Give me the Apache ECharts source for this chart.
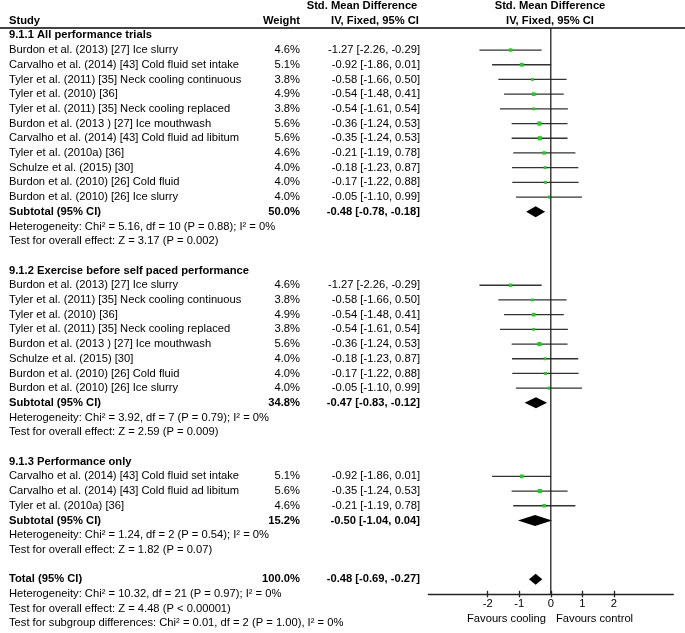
<!DOCTYPE html>
<html><head><meta charset="utf-8">
<script src="https://cdn.jsdelivr.net/npm/echarts@6/dist/echarts.min.js"></script>
<style>html,body{margin:0;padding:0;background:#fff}#c{width:685px;height:633px}</style>
</head><body><div id="c"></div>
<script>
// ---------- data ----------
const g1Title = '9.1.1 All performance trials';
const g1Names = ['Burdon et al. (2013) [27] Ice slurry','Carvalho et al. (2014) [43] Cold fluid set intake','Tyler et al. (2011) [35] Neck cooling continuous','Tyler et al. (2010) [36]','Tyler et al. (2011) [35] Neck cooling replaced','Burdon et al. (2013 ) [27] Ice mouthwash','Carvalho et al. (2014) [43] Cold fluid ad libitum','Tyler et al. (2010a) [36]','Schulze et al. (2015) [30]','Burdon et al. (2010) [26] Cold fluid','Burdon et al. (2010) [26] Ice slurry'];
const g1Weight = [4.6,5.1,3.8,4.9,3.8,5.6,5.6,4.6,4.0,4.0,4.0];
const g1Smd = [-1.27,-0.92,-0.58,-0.54,-0.54,-0.36,-0.35,-0.21,-0.18,-0.17,-0.05];
const g1Lo = [-2.26,-1.86,-1.66,-1.48,-1.61,-1.24,-1.24,-1.19,-1.23,-1.22,-1.10];
const g1Hi = [-0.29,0.01,0.50,0.41,0.54,0.53,0.53,0.78,0.87,0.88,0.99];
const g1Sub = [50.0,-0.48,-0.78,-0.18];
const g1Stats = ['Heterogeneity: Chi\u00b2 = 5.16, df = 10 (P = 0.88); I\u00b2 = 0%','Test for overall effect: Z = 3.17 (P = 0.002)'];

const g2Title = '9.1.2 Exercise before self paced performance';
const g2Names = ['Burdon et al. (2013) [27] Ice slurry','Tyler et al. (2011) [35] Neck cooling continuous','Tyler et al. (2010) [36]','Tyler et al. (2011) [35] Neck cooling replaced','Burdon et al. (2013 ) [27] Ice mouthwash','Schulze et al. (2015) [30]','Burdon et al. (2010) [26] Cold fluid','Burdon et al. (2010) [26] Ice slurry'];
const g2Weight = [4.6,3.8,4.9,3.8,5.6,4.0,4.0,4.0];
const g2Smd = [-1.27,-0.58,-0.54,-0.54,-0.36,-0.18,-0.17,-0.05];
const g2Lo = [-2.26,-1.66,-1.48,-1.61,-1.24,-1.23,-1.22,-1.10];
const g2Hi = [-0.29,0.50,0.41,0.54,0.53,0.87,0.88,0.99];
const g2Sub = [34.8,-0.47,-0.83,-0.12];
const g2Stats = ['Heterogeneity: Chi\u00b2 = 3.92, df = 7 (P = 0.79); I\u00b2 = 0%','Test for overall effect: Z = 2.59 (P = 0.009)'];

const g3Title = '9.1.3 Performance only';
const g3Names = ['Carvalho et al. (2014) [43] Cold fluid set intake','Carvalho et al. (2014) [43] Cold fluid ad libitum','Tyler et al. (2010a) [36]'];
const g3Weight = [5.1,5.6,4.6];
const g3Smd = [-0.92,-0.35,-0.21];
const g3Lo = [-1.86,-1.24,-1.19];
const g3Hi = [0.01,0.53,0.78];
const g3Sub = [15.2,-0.50,-1.04,0.04];
const g3Stats = ['Heterogeneity: Chi\u00b2 = 1.24, df = 2 (P = 0.54); I\u00b2 = 0%','Test for overall effect: Z = 1.82 (P = 0.07)'];

const totalRow = [100.0,-0.48,-0.69,-0.27];
const totalStats = ['Heterogeneity: Chi\u00b2 = 10.32, df = 21 (P = 0.97); I\u00b2 = 0%','Test for overall effect: Z = 4.48 (P < 0.00001)','Test for subgroup differences: Chi\u00b2 = 0.01, df = 2 (P = 1.00), I\u00b2 = 0%'];

const xTicks = [-2,-1,0,1,2];
const favourLeft = 'Favours cooling';
const favourRight = 'Favours control';

// ---------- layout ----------
const FONT = '"Liberation Sans", Arial, sans-serif';
const FS = 11.2;
const ROW_H = 14.7, ROW0 = 35.35;
const COL_NAME = 9, COL_W = 300, COL_CI = 420, COL_PLOT = 550;

const groups = [
  {title:g1Title,names:g1Names,w:g1Weight,smd:g1Smd,lo:g1Lo,hi:g1Hi,sub:g1Sub,stats:g1Stats},
  {title:g2Title,names:g2Names,w:g2Weight,smd:g2Smd,lo:g2Lo,hi:g2Hi,sub:g2Sub,stats:g2Stats},
  {title:g3Title,names:g3Names,w:g3Weight,smd:g3Smd,lo:g3Lo,hi:g3Hi,sub:g3Sub,stats:g3Stats}
];

const cells = [];
const studyData = [];
const diamondData = [];
function add(x, r, text, align, bold) { cells.push({x, r, text, align, bold}); }
const fmtW = w => w.toFixed(1) + '%';
const fmtCI = (e,l,h) => e.toFixed(2) + ' [' + l.toFixed(2) + ', ' + h.toFixed(2) + ']';

// headers
add(362, -2, 'Std. Mean Difference', 'center', true);
add(COL_NAME, -1, 'Study', 'left', true);
add(COL_W, -1, 'Weight', 'right', true);
add(375, -1, 'IV, Fixed, 95% CI', 'center', true);
add(COL_PLOT, -2, 'Std. Mean Difference', 'center', true);
add(COL_PLOT, -1, 'IV, Fixed, 95% CI', 'center', true);

let r = 0;
groups.forEach(g => {
  add(COL_NAME, r, g.title, 'left', true); r++;
  g.names.forEach((n, i) => {
    add(COL_NAME, r, n, 'left', false);
    add(COL_W, r, fmtW(g.w[i]), 'right', false);
    add(COL_CI, r, fmtCI(g.smd[i], g.lo[i], g.hi[i]), 'right', false);
    studyData.push([r, g.lo[i], g.smd[i], g.hi[i], g.w[i]]);
    r++;
  });
  add(COL_NAME, r, 'Subtotal (95% CI)', 'left', true);
  add(COL_W, r, fmtW(g.sub[0]), 'right', true);
  add(COL_CI, r, fmtCI(g.sub[1], g.sub[2], g.sub[3]), 'right', true);
  diamondData.push([r, g.sub[2], g.sub[1], g.sub[3]]);
  r++;
  g.stats.forEach(s => { add(COL_NAME, r, s, 'left', false); r++; });
  r++;
});
add(COL_NAME, r, 'Total (95% CI)', 'left', true);
add(COL_W, r, fmtW(totalRow[0]), 'right', true);
add(COL_CI, r, fmtCI(totalRow[1], totalRow[2], totalRow[3]), 'right', true);
diamondData.push([r, totalRow[2], totalRow[1], totalRow[3]]);
r++;
totalStats.forEach(s => { add(COL_NAME, r, s, 'left', false); r++; });
add(546, 39.7, favourLeft, 'right', false);
add(556, 39.7, favourRight, 'left', false);

const H = 633, W = 685;
const tableYMin = -ROW0 / ROW_H;
const tableYMax = (H - ROW0) / ROW_H;

const plotTop = 28, plotBottomPx = 594.3;
const plotYMin = (plotTop - ROW0) / ROW_H;
const plotYMax = (plotBottomPx - ROW0) / ROW_H;

const chart = echarts.init(document.getElementById('c'), null, {renderer: 'canvas'});
chart.setOption({
  animation: false,
  backgroundColor: '#fff',
  grid: [
    {left: 0, top: 0, width: W, height: H},
    {left: 428.3, top: plotTop, width: 245, height: plotBottomPx - plotTop}
  ],
  xAxis: [
    {gridIndex: 0, type: 'value', min: 0, max: W, show: false},
    {gridIndex: 1, type: 'value', min: -3.88, max: 3.88, position: 'bottom',
      splitLine: {show: false},
      axisLine: {show: true, onZero: false, lineStyle: {color: '#222', width: 1.3}},
      axisTick: {show: true, length: 3, customValues: xTicks, lineStyle: {color: '#222', width: 1.3}},
      axisLabel: {show: true, customValues: xTicks, margin: 4, color: '#000', fontSize: FS, fontFamily: FONT}
    },
    {gridIndex: 1, type: 'value', min: -3.88, max: 3.88, position: 'bottom',
      splitLine: {show: false},
      axisLine: {show: false, onZero: false},
      axisTick: {show: true, inside: true, length: 3.5, customValues: xTicks, lineStyle: {color: '#222', width: 1.3}},
      axisLabel: {show: false}
    }
  ],
  yAxis: [
    {gridIndex: 0, type: 'value', inverse: true, min: tableYMin, max: tableYMax, show: false},
    {gridIndex: 1, type: 'value', inverse: true, min: plotYMin, max: plotYMax, show: false}
  ],
  series: [
    { // header rule
      type: 'line', xAxisIndex: 0, yAxisIndex: 0, symbol: 'none', silent: true,
      lineStyle: {color: '#444', width: 2},
      data: [[0, -0.5], [W, -0.5]]
    },
    { // zero line
      type: 'line', xAxisIndex: 1, yAxisIndex: 1, symbol: 'none', silent: true,
      lineStyle: {color: '#222', width: 1.3},
      data: [[0, plotYMin], [0, plotYMax]]
    },
    { // study CIs and squares
      type: 'custom', xAxisIndex: 1, yAxisIndex: 1, silent: true, clip: false,
      encode: {x: [1, 2, 3], y: 0},
      data: studyData,
      renderItem: function (params, api) {
        const row = api.value(0);
        const pLo = api.coord([api.value(1), row]);
        const pE = api.coord([api.value(2), row]);
        const pHi = api.coord([api.value(3), row]);
        const s = api.value(4) * 0.75;
        return {type: 'group', children: [
          {type: 'line', shape: {x1: pLo[0], y1: pLo[1], x2: pHi[0], y2: pHi[1]},
            style: {stroke: '#333', lineWidth: 1.3}},
          {type: 'rect', shape: {x: pE[0] - s / 2, y: pE[1] - s / 2, width: s, height: s},
            style: {fill: '#22cc22'}}
        ]};
      }
    },
    { // diamonds
      type: 'custom', xAxisIndex: 1, yAxisIndex: 1, silent: true, clip: false,
      encode: {x: [1, 2, 3], y: 0},
      data: diamondData,
      renderItem: function (params, api) {
        const row = api.value(0);
        const pLo = api.coord([api.value(1), row]);
        const pE = api.coord([api.value(2), row]);
        const pHi = api.coord([api.value(3), row]);
        const h = 5.5;
        return {type: 'polygon', shape: {points: [[pLo[0], pLo[1]], [pE[0], pE[1] - h], [pHi[0], pHi[1]], [pE[0], pE[1] + h]]},
          style: {fill: '#000'}};
      }
    },
    { // table text
      type: 'custom', xAxisIndex: 0, yAxisIndex: 0, silent: true, clip: false,
      encode: {x: 0, y: 1},
      data: cells.map(c => [c.x, c.r]),
      renderItem: function (params, api) {
        const c = cells[params.dataIndex];
        const p = api.coord([api.value(0), api.value(1)]);
        return {type: 'text', x: p[0], y: p[1],
          style: {text: c.text, align: c.align, verticalAlign: 'middle', fill: '#000',
            font: (c.bold ? 'bold ' : '') + FS + 'px ' + FONT}};
      }
    }
  ]
});
</script></body></html>
